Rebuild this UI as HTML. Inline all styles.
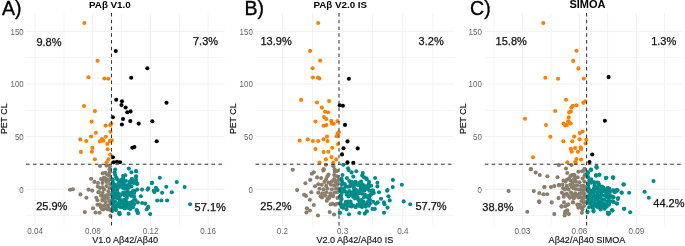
<!DOCTYPE html><html><head><meta charset="utf-8"><style>html,body{margin:0;padding:0;background:#fff;overflow:hidden}svg{display:block;will-change:transform;font-family:"Liberation Sans",sans-serif}</style></head><body>
<svg width="685" height="246" viewBox="0 0 685 246">
<rect width="685" height="246" fill="#fff"/>
<line x1="26.0" x2="224.8" y1="215.63" y2="215.63" stroke="#f3f3f3" stroke-width="1"/>
<line x1="26.0" x2="224.8" y1="162.97" y2="162.97" stroke="#f3f3f3" stroke-width="1"/>
<line x1="26.0" x2="224.8" y1="110.30" y2="110.30" stroke="#f3f3f3" stroke-width="1"/>
<line x1="26.0" x2="224.8" y1="57.64" y2="57.64" stroke="#f3f3f3" stroke-width="1"/>
<line x1="64.0" x2="64.0" y1="13.0" y2="225.6" stroke="#f3f3f3" stroke-width="1"/>
<line x1="121.6" x2="121.6" y1="13.0" y2="225.6" stroke="#f3f3f3" stroke-width="1"/>
<line x1="179.3" x2="179.3" y1="13.0" y2="225.6" stroke="#f3f3f3" stroke-width="1"/>
<line x1="26.0" x2="224.8" y1="189.30" y2="189.30" stroke="#f1f1f1" stroke-width="1"/>
<line x1="26.0" x2="224.8" y1="136.64" y2="136.64" stroke="#f1f1f1" stroke-width="1"/>
<line x1="26.0" x2="224.8" y1="83.97" y2="83.97" stroke="#f1f1f1" stroke-width="1"/>
<line x1="26.0" x2="224.8" y1="31.31" y2="31.31" stroke="#f1f1f1" stroke-width="1"/>
<line x1="35.1" x2="35.1" y1="13.0" y2="225.6" stroke="#f1f1f1" stroke-width="1"/>
<line x1="92.8" x2="92.8" y1="13.0" y2="225.6" stroke="#f1f1f1" stroke-width="1"/>
<line x1="150.5" x2="150.5" y1="13.0" y2="225.6" stroke="#f1f1f1" stroke-width="1"/>
<line x1="208.1" x2="208.1" y1="13.0" y2="225.6" stroke="#f1f1f1" stroke-width="1"/>
<text transform="translate(23.7,192.50) scale(0.88,1)" font-size="9" fill="#666" text-anchor="end">0</text>
<text transform="translate(23.7,139.84) scale(0.88,1)" font-size="9" fill="#666" text-anchor="end">50</text>
<text transform="translate(23.7,87.17) scale(0.88,1)" font-size="9" fill="#666" text-anchor="end">100</text>
<text transform="translate(23.7,34.51) scale(0.88,1)" font-size="9" fill="#666" text-anchor="end">150</text>
<text transform="translate(35.1,234.4) scale(0.9,1)" font-size="9" fill="#666" text-anchor="middle">0.04</text>
<text transform="translate(92.8,234.4) scale(0.9,1)" font-size="9" fill="#666" text-anchor="middle">0.08</text>
<text transform="translate(150.5,234.4) scale(0.9,1)" font-size="9" fill="#666" text-anchor="middle">0.12</text>
<text transform="translate(208.1,234.4) scale(0.9,1)" font-size="9" fill="#666" text-anchor="middle">0.16</text>
<text x="125.15" y="242.9" font-size="9.05" fill="#111" stroke="#111" stroke-width="0.15" text-anchor="middle">V1.0 Aβ42/Aβ40</text>
<text transform="translate(7.3,118.8) rotate(-90)" font-size="8.8" fill="#111" stroke="#111" stroke-width="0.2" text-anchor="middle">PET CL</text>
<text x="2.0" y="14.6" font-size="19.5" fill="#000" stroke="#000" stroke-width="0.35">A)</text>
<text x="89.0" y="8.1" font-size="9.8" font-weight="bold" fill="#000">PAβ V1.0</text>
<circle cx="70.1" cy="189.8" r="2.05" fill="#8b7d6b"/>
<circle cx="72.9" cy="189.3" r="2.05" fill="#8b7d6b"/>
<circle cx="80.4" cy="194.4" r="2.05" fill="#8b7d6b"/>
<circle cx="84.8" cy="212.1" r="2.05" fill="#8b7d6b"/>
<circle cx="86.4" cy="197.7" r="2.05" fill="#8b7d6b"/>
<circle cx="88.5" cy="189.6" r="2.05" fill="#8b7d6b"/>
<circle cx="92.2" cy="190.6" r="2.05" fill="#8b7d6b"/>
<circle cx="91.1" cy="178.8" r="2.05" fill="#8b7d6b"/>
<circle cx="94.4" cy="181.9" r="2.05" fill="#8b7d6b"/>
<circle cx="93.0" cy="208.2" r="2.05" fill="#8b7d6b"/>
<circle cx="95.6" cy="212.5" r="2.05" fill="#8b7d6b"/>
<circle cx="99.6" cy="212.7" r="2.05" fill="#8b7d6b"/>
<circle cx="96.3" cy="197.8" r="2.05" fill="#8b7d6b"/>
<circle cx="97.5" cy="200.3" r="2.05" fill="#8b7d6b"/>
<circle cx="97.5" cy="204.8" r="2.05" fill="#8b7d6b"/>
<circle cx="99.8" cy="204.5" r="2.05" fill="#8b7d6b"/>
<circle cx="100.9" cy="206.9" r="2.05" fill="#8b7d6b"/>
<circle cx="101.9" cy="209.0" r="2.05" fill="#8b7d6b"/>
<circle cx="102.4" cy="200.5" r="2.05" fill="#8b7d6b"/>
<circle cx="105.6" cy="202.1" r="2.05" fill="#8b7d6b"/>
<circle cx="107.7" cy="205.3" r="2.05" fill="#8b7d6b"/>
<circle cx="108.3" cy="207.9" r="2.05" fill="#8b7d6b"/>
<circle cx="109.3" cy="201.0" r="2.05" fill="#8b7d6b"/>
<circle cx="110.4" cy="215.9" r="2.05" fill="#8b7d6b"/>
<circle cx="103.3" cy="209.4" r="2.05" fill="#8b7d6b"/>
<circle cx="107.9" cy="209.4" r="2.05" fill="#8b7d6b"/>
<circle cx="98.3" cy="192.3" r="2.05" fill="#8b7d6b"/>
<circle cx="97.7" cy="186.5" r="2.05" fill="#8b7d6b"/>
<circle cx="98.0" cy="183.0" r="2.05" fill="#8b7d6b"/>
<circle cx="102.4" cy="183.0" r="2.05" fill="#8b7d6b"/>
<circle cx="106.6" cy="182.0" r="2.05" fill="#8b7d6b"/>
<circle cx="108.4" cy="180.5" r="2.05" fill="#8b7d6b"/>
<circle cx="106.3" cy="179.0" r="2.05" fill="#8b7d6b"/>
<circle cx="110.0" cy="184.0" r="2.05" fill="#8b7d6b"/>
<circle cx="102.7" cy="187.2" r="2.05" fill="#8b7d6b"/>
<circle cx="106.6" cy="186.0" r="2.05" fill="#8b7d6b"/>
<circle cx="99.0" cy="192.0" r="2.05" fill="#8b7d6b"/>
<circle cx="102.6" cy="192.7" r="2.05" fill="#8b7d6b"/>
<circle cx="108.3" cy="191.3" r="2.05" fill="#8b7d6b"/>
<circle cx="100.0" cy="166.0" r="2.05" fill="#8b7d6b"/>
<circle cx="106.5" cy="165.6" r="2.05" fill="#8b7d6b"/>
<circle cx="109.9" cy="166.5" r="2.05" fill="#8b7d6b"/>
<circle cx="109.5" cy="169.6" r="2.05" fill="#8b7d6b"/>
<circle cx="102.7" cy="173.3" r="2.05" fill="#8b7d6b"/>
<circle cx="105.4" cy="172.7" r="2.05" fill="#8b7d6b"/>
<circle cx="107.2" cy="174.8" r="2.05" fill="#8b7d6b"/>
<circle cx="109.8" cy="172.2" r="2.05" fill="#8b7d6b"/>
<circle cx="109.4" cy="175.7" r="2.05" fill="#8b7d6b"/>
<circle cx="100.0" cy="188.0" r="2.05" fill="#8b7d6b"/>
<circle cx="104.0" cy="189.5" r="2.05" fill="#8b7d6b"/>
<circle cx="109.5" cy="188.0" r="2.05" fill="#8b7d6b"/>
<circle cx="101.0" cy="195.5" r="2.05" fill="#8b7d6b"/>
<circle cx="104.0" cy="196.0" r="2.05" fill="#8b7d6b"/>
<circle cx="107.0" cy="195.0" r="2.05" fill="#8b7d6b"/>
<circle cx="110.0" cy="194.5" r="2.05" fill="#8b7d6b"/>
<circle cx="102.5" cy="199.0" r="2.05" fill="#8b7d6b"/>
<circle cx="105.0" cy="198.5" r="2.05" fill="#8b7d6b"/>
<circle cx="108.0" cy="198.0" r="2.05" fill="#8b7d6b"/>
<circle cx="110.5" cy="204.0" r="2.05" fill="#8b7d6b"/>
<circle cx="104.0" cy="205.5" r="2.05" fill="#8b7d6b"/>
<circle cx="106.0" cy="208.5" r="2.05" fill="#8b7d6b"/>
<circle cx="110.5" cy="210.0" r="2.05" fill="#8b7d6b"/>
<circle cx="104.0" cy="177.5" r="2.05" fill="#8b7d6b"/>
<circle cx="101.0" cy="179.0" r="2.05" fill="#8b7d6b"/>
<circle cx="110.5" cy="179.0" r="2.05" fill="#8b7d6b"/>
<circle cx="103.0" cy="180.5" r="2.05" fill="#8b7d6b"/>
<circle cx="115.1" cy="169.6" r="2.05" fill="#008b8b"/>
<circle cx="114.6" cy="172.2" r="2.05" fill="#008b8b"/>
<circle cx="115.1" cy="174.7" r="2.05" fill="#008b8b"/>
<circle cx="116.1" cy="177.2" r="2.05" fill="#008b8b"/>
<circle cx="117.1" cy="179.3" r="2.05" fill="#008b8b"/>
<circle cx="112.5" cy="179.3" r="2.05" fill="#008b8b"/>
<circle cx="128.8" cy="168.6" r="2.05" fill="#008b8b"/>
<circle cx="131.4" cy="172.2" r="2.05" fill="#008b8b"/>
<circle cx="135.9" cy="171.1" r="2.05" fill="#008b8b"/>
<circle cx="135.9" cy="176.2" r="2.05" fill="#008b8b"/>
<circle cx="123.2" cy="175.7" r="2.05" fill="#008b8b"/>
<circle cx="125.3" cy="175.2" r="2.05" fill="#008b8b"/>
<circle cx="123.2" cy="178.3" r="2.05" fill="#008b8b"/>
<circle cx="131.9" cy="178.8" r="2.05" fill="#008b8b"/>
<circle cx="133.4" cy="180.3" r="2.05" fill="#008b8b"/>
<circle cx="129.8" cy="181.8" r="2.05" fill="#008b8b"/>
<circle cx="136.4" cy="182.3" r="2.05" fill="#008b8b"/>
<circle cx="122.7" cy="182.8" r="2.05" fill="#008b8b"/>
<circle cx="120.0" cy="181.5" r="2.05" fill="#008b8b"/>
<circle cx="126.0" cy="181.0" r="2.05" fill="#008b8b"/>
<circle cx="136.2" cy="171.3" r="2.05" fill="#008b8b"/>
<circle cx="136.2" cy="176.8" r="2.05" fill="#008b8b"/>
<circle cx="137.3" cy="184.0" r="2.05" fill="#008b8b"/>
<circle cx="159.8" cy="177.7" r="2.05" fill="#008b8b"/>
<circle cx="152.0" cy="182.8" r="2.05" fill="#008b8b"/>
<circle cx="176.8" cy="182.1" r="2.05" fill="#008b8b"/>
<circle cx="166.3" cy="186.8" r="2.05" fill="#008b8b"/>
<circle cx="184.6" cy="187.1" r="2.05" fill="#008b8b"/>
<circle cx="156.0" cy="187.8" r="2.05" fill="#008b8b"/>
<circle cx="154.5" cy="190.8" r="2.05" fill="#008b8b"/>
<circle cx="157.6" cy="190.1" r="2.05" fill="#008b8b"/>
<circle cx="162.1" cy="192.8" r="2.05" fill="#008b8b"/>
<circle cx="171.8" cy="192.3" r="2.05" fill="#008b8b"/>
<circle cx="157.2" cy="200.5" r="2.05" fill="#008b8b"/>
<circle cx="161.3" cy="200.5" r="2.05" fill="#008b8b"/>
<circle cx="167.1" cy="200.5" r="2.05" fill="#008b8b"/>
<circle cx="190.1" cy="204.3" r="2.05" fill="#008b8b"/>
<circle cx="148.1" cy="207.6" r="2.05" fill="#008b8b"/>
<circle cx="146.8" cy="209.3" r="2.05" fill="#008b8b"/>
<circle cx="137.1" cy="210.7" r="2.05" fill="#008b8b"/>
<circle cx="138.0" cy="213.0" r="2.05" fill="#008b8b"/>
<circle cx="150.2" cy="214.1" r="2.05" fill="#008b8b"/>
<circle cx="154.4" cy="192.0" r="2.05" fill="#008b8b"/>
<circle cx="119.1" cy="213.2" r="2.05" fill="#008b8b"/>
<circle cx="119.6" cy="214.3" r="2.05" fill="#008b8b"/>
<circle cx="128.6" cy="213.7" r="2.05" fill="#008b8b"/>
<circle cx="136.5" cy="210.0" r="2.05" fill="#008b8b"/>
<circle cx="137.6" cy="212.7" r="2.05" fill="#008b8b"/>
<circle cx="112.2" cy="211.1" r="2.05" fill="#008b8b"/>
<circle cx="115.9" cy="210.0" r="2.05" fill="#008b8b"/>
<circle cx="124.9" cy="208.4" r="2.05" fill="#008b8b"/>
<circle cx="130.2" cy="209.0" r="2.05" fill="#008b8b"/>
<circle cx="115.1" cy="201.6" r="2.05" fill="#008b8b"/>
<circle cx="112.0" cy="202.1" r="2.05" fill="#008b8b"/>
<circle cx="117.8" cy="204.2" r="2.05" fill="#008b8b"/>
<circle cx="112.5" cy="207.9" r="2.05" fill="#008b8b"/>
<circle cx="115.7" cy="209.5" r="2.05" fill="#008b8b"/>
<circle cx="119.4" cy="212.7" r="2.05" fill="#008b8b"/>
<circle cx="130.5" cy="181.0" r="2.05" fill="#008b8b"/>
<circle cx="136.0" cy="179.8" r="2.05" fill="#008b8b"/>
<circle cx="136.6" cy="183.5" r="2.05" fill="#008b8b"/>
<circle cx="137.2" cy="189.6" r="2.05" fill="#008b8b"/>
<circle cx="142.1" cy="189.6" r="2.05" fill="#008b8b"/>
<circle cx="147.6" cy="189.6" r="2.05" fill="#008b8b"/>
<circle cx="148.2" cy="188.4" r="2.05" fill="#008b8b"/>
<circle cx="151.8" cy="182.9" r="2.05" fill="#008b8b"/>
<circle cx="153.7" cy="190.8" r="2.05" fill="#008b8b"/>
<circle cx="140.9" cy="196.3" r="2.05" fill="#008b8b"/>
<circle cx="135.4" cy="200.0" r="2.05" fill="#008b8b"/>
<circle cx="137.8" cy="202.4" r="2.05" fill="#008b8b"/>
<circle cx="142.1" cy="203.0" r="2.05" fill="#008b8b"/>
<circle cx="145.1" cy="203.6" r="2.05" fill="#008b8b"/>
<circle cx="148.2" cy="206.7" r="2.05" fill="#008b8b"/>
<circle cx="132.9" cy="196.3" r="2.05" fill="#008b8b"/>
<circle cx="134.8" cy="190.8" r="2.05" fill="#008b8b"/>
<circle cx="129.3" cy="187.1" r="2.05" fill="#008b8b"/>
<circle cx="123.4" cy="192.6" r="2.05" fill="#008b8b"/>
<circle cx="126.8" cy="202.1" r="2.05" fill="#008b8b"/>
<circle cx="122.3" cy="200.2" r="2.05" fill="#008b8b"/>
<circle cx="117.5" cy="206.5" r="2.05" fill="#008b8b"/>
<circle cx="132.3" cy="180.9" r="2.05" fill="#008b8b"/>
<circle cx="113.1" cy="195.2" r="2.05" fill="#008b8b"/>
<circle cx="133.2" cy="190.7" r="2.05" fill="#008b8b"/>
<circle cx="117.3" cy="191.8" r="2.05" fill="#008b8b"/>
<circle cx="113.1" cy="186.2" r="2.05" fill="#008b8b"/>
<circle cx="117.6" cy="186.5" r="2.05" fill="#008b8b"/>
<circle cx="118.9" cy="180.6" r="2.05" fill="#008b8b"/>
<circle cx="130.9" cy="195.6" r="2.05" fill="#008b8b"/>
<circle cx="126.6" cy="185.2" r="2.05" fill="#008b8b"/>
<circle cx="134.3" cy="204.1" r="2.05" fill="#008b8b"/>
<circle cx="115.2" cy="189.3" r="2.05" fill="#008b8b"/>
<circle cx="119.2" cy="196.5" r="2.05" fill="#008b8b"/>
<circle cx="131.9" cy="203.7" r="2.05" fill="#008b8b"/>
<circle cx="116.3" cy="195.4" r="2.05" fill="#008b8b"/>
<circle cx="123.3" cy="180.8" r="2.05" fill="#008b8b"/>
<circle cx="134.1" cy="196.6" r="2.05" fill="#008b8b"/>
<circle cx="121.2" cy="184.8" r="2.05" fill="#008b8b"/>
<circle cx="123.5" cy="207.5" r="2.05" fill="#008b8b"/>
<circle cx="131.4" cy="186.5" r="2.05" fill="#008b8b"/>
<circle cx="129.7" cy="203.0" r="2.05" fill="#008b8b"/>
<circle cx="113.7" cy="204.4" r="2.05" fill="#008b8b"/>
<circle cx="126.0" cy="192.8" r="2.05" fill="#008b8b"/>
<circle cx="118.1" cy="203.6" r="2.05" fill="#008b8b"/>
<circle cx="114.9" cy="197.5" r="2.05" fill="#008b8b"/>
<circle cx="113.0" cy="190.8" r="2.05" fill="#008b8b"/>
<circle cx="123.7" cy="185.9" r="2.05" fill="#008b8b"/>
<circle cx="127.4" cy="195.3" r="2.05" fill="#008b8b"/>
<circle cx="117.4" cy="198.2" r="2.05" fill="#008b8b"/>
<circle cx="130.5" cy="206.9" r="2.05" fill="#008b8b"/>
<circle cx="119.0" cy="194.0" r="2.05" fill="#008b8b"/>
<circle cx="115.0" cy="184.7" r="2.05" fill="#008b8b"/>
<circle cx="120.8" cy="207.2" r="2.05" fill="#008b8b"/>
<circle cx="133.8" cy="183.1" r="2.05" fill="#008b8b"/>
<circle cx="126.8" cy="198.0" r="2.05" fill="#008b8b"/>
<circle cx="123.4" cy="204.2" r="2.05" fill="#008b8b"/>
<circle cx="124.6" cy="195.2" r="2.05" fill="#008b8b"/>
<circle cx="131.2" cy="192.7" r="2.05" fill="#008b8b"/>
<circle cx="113.4" cy="207.5" r="2.05" fill="#008b8b"/>
<circle cx="125.1" cy="188.7" r="2.05" fill="#008b8b"/>
<circle cx="125.7" cy="204.7" r="2.05" fill="#008b8b"/>
<circle cx="134.2" cy="192.9" r="2.05" fill="#008b8b"/>
<circle cx="128.1" cy="204.5" r="2.05" fill="#008b8b"/>
<circle cx="127.7" cy="191.3" r="2.05" fill="#008b8b"/>
<circle cx="129.2" cy="184.3" r="2.05" fill="#008b8b"/>
<circle cx="115.4" cy="193.0" r="2.05" fill="#008b8b"/>
<circle cx="118.5" cy="183.3" r="2.05" fill="#008b8b"/>
<circle cx="126.4" cy="207.1" r="2.05" fill="#008b8b"/>
<circle cx="134.2" cy="200.1" r="2.05" fill="#008b8b"/>
<circle cx="119.7" cy="201.0" r="2.05" fill="#008b8b"/>
<circle cx="132.9" cy="207.2" r="2.05" fill="#008b8b"/>
<circle cx="130.9" cy="182.5" r="2.05" fill="#008b8b"/>
<circle cx="112.6" cy="180.6" r="2.05" fill="#008b8b"/>
<circle cx="120.9" cy="203.3" r="2.05" fill="#008b8b"/>
<circle cx="121.1" cy="180.1" r="2.05" fill="#008b8b"/>
<circle cx="120.0" cy="186.7" r="2.05" fill="#008b8b"/>
<circle cx="115.4" cy="187.1" r="2.05" fill="#008b8b"/>
<circle cx="113.0" cy="182.9" r="2.05" fill="#008b8b"/>
<circle cx="112.5" cy="199.7" r="2.05" fill="#008b8b"/>
<circle cx="123.7" cy="183.6" r="2.05" fill="#008b8b"/>
<circle cx="121.2" cy="194.6" r="2.05" fill="#008b8b"/>
<circle cx="125.0" cy="199.6" r="2.05" fill="#008b8b"/>
<circle cx="123.9" cy="201.9" r="2.05" fill="#008b8b"/>
<circle cx="112.5" cy="188.6" r="2.05" fill="#008b8b"/>
<circle cx="129.0" cy="193.1" r="2.05" fill="#008b8b"/>
<circle cx="127.6" cy="188.5" r="2.05" fill="#008b8b"/>
<circle cx="128.5" cy="207.9" r="2.05" fill="#008b8b"/>
<circle cx="117.5" cy="188.8" r="2.05" fill="#008b8b"/>
<circle cx="121.1" cy="182.5" r="2.05" fill="#008b8b"/>
<circle cx="115.3" cy="206.1" r="2.05" fill="#008b8b"/>
<circle cx="119.5" cy="205.4" r="2.05" fill="#008b8b"/>
<circle cx="112.5" cy="197.5" r="2.05" fill="#008b8b"/>
<circle cx="119.7" cy="198.7" r="2.05" fill="#008b8b"/>
<circle cx="132.3" cy="201.5" r="2.05" fill="#008b8b"/>
<circle cx="123.0" cy="188.0" r="2.05" fill="#008b8b"/>
<circle cx="112.5" cy="193.0" r="2.05" fill="#008b8b"/>
<circle cx="84.4" cy="23.0" r="2.05" fill="#ff7f00"/>
<circle cx="97.6" cy="60.7" r="2.05" fill="#ff7f00"/>
<circle cx="88.5" cy="77.3" r="2.05" fill="#ff7f00"/>
<circle cx="104.4" cy="78.5" r="2.05" fill="#ff7f00"/>
<circle cx="108.3" cy="78.8" r="2.05" fill="#ff7f00"/>
<circle cx="84.0" cy="106.0" r="2.05" fill="#ff7f00"/>
<circle cx="94.9" cy="111.1" r="2.05" fill="#ff7f00"/>
<circle cx="91.6" cy="121.6" r="2.05" fill="#ff7f00"/>
<circle cx="105.6" cy="125.6" r="2.05" fill="#ff7f00"/>
<circle cx="110.3" cy="124.9" r="2.05" fill="#ff7f00"/>
<circle cx="111.3" cy="123.5" r="2.05" fill="#ff7f00"/>
<circle cx="95.9" cy="132.7" r="2.05" fill="#ff7f00"/>
<circle cx="110.5" cy="131.8" r="2.05" fill="#ff7f00"/>
<circle cx="91.1" cy="136.5" r="2.05" fill="#ff7f00"/>
<circle cx="105.8" cy="136.8" r="2.05" fill="#ff7f00"/>
<circle cx="80.3" cy="139.4" r="2.05" fill="#ff7f00"/>
<circle cx="86.3" cy="141.1" r="2.05" fill="#ff7f00"/>
<circle cx="99.9" cy="141.2" r="2.05" fill="#ff7f00"/>
<circle cx="102.0" cy="139.1" r="2.05" fill="#ff7f00"/>
<circle cx="103.4" cy="140.8" r="2.05" fill="#ff7f00"/>
<circle cx="107.3" cy="143.9" r="2.05" fill="#ff7f00"/>
<circle cx="109.9" cy="141.1" r="2.05" fill="#ff7f00"/>
<circle cx="111.8" cy="140.4" r="2.05" fill="#ff7f00"/>
<circle cx="92.4" cy="147.9" r="2.05" fill="#ff7f00"/>
<circle cx="91.9" cy="151.8" r="2.05" fill="#ff7f00"/>
<circle cx="80.9" cy="151.9" r="2.05" fill="#ff7f00"/>
<circle cx="107.7" cy="149.2" r="2.05" fill="#ff7f00"/>
<circle cx="110.3" cy="154.5" r="2.05" fill="#ff7f00"/>
<circle cx="94.9" cy="159.2" r="2.05" fill="#ff7f00"/>
<circle cx="108.4" cy="159.3" r="2.05" fill="#ff7f00"/>
<circle cx="106.7" cy="162.2" r="2.05" fill="#ff7f00"/>
<circle cx="115.8" cy="51.0" r="2.05" fill="#000000"/>
<circle cx="147.3" cy="68.3" r="2.05" fill="#000000"/>
<circle cx="131.2" cy="77.8" r="2.05" fill="#000000"/>
<circle cx="116.2" cy="99.8" r="2.05" fill="#000000"/>
<circle cx="122.0" cy="101.3" r="2.05" fill="#000000"/>
<circle cx="121.5" cy="105.1" r="2.05" fill="#000000"/>
<circle cx="125.6" cy="107.5" r="2.05" fill="#000000"/>
<circle cx="127.3" cy="112.2" r="2.05" fill="#000000"/>
<circle cx="130.6" cy="111.4" r="2.05" fill="#000000"/>
<circle cx="166.5" cy="102.8" r="2.05" fill="#000000"/>
<circle cx="112.9" cy="117.3" r="2.05" fill="#000000"/>
<circle cx="123.0" cy="119.0" r="2.05" fill="#000000"/>
<circle cx="130.3" cy="121.1" r="2.05" fill="#000000"/>
<circle cx="121.9" cy="124.5" r="2.05" fill="#000000"/>
<circle cx="138.7" cy="123.6" r="2.05" fill="#000000"/>
<circle cx="152.3" cy="121.2" r="2.05" fill="#000000"/>
<circle cx="156.7" cy="141.2" r="2.05" fill="#000000"/>
<circle cx="132.3" cy="147.8" r="2.05" fill="#000000"/>
<circle cx="134.4" cy="147.1" r="2.05" fill="#000000"/>
<circle cx="112.9" cy="157.2" r="2.05" fill="#000000"/>
<circle cx="113.7" cy="162.2" r="2.05" fill="#000000"/>
<circle cx="117.0" cy="161.7" r="2.05" fill="#000000"/>
<circle cx="120.0" cy="162.2" r="2.05" fill="#000000"/>
<line x1="26.0" x2="224.8" y1="164.3" y2="164.3" stroke="#333" stroke-width="1.05" stroke-dasharray="3.6 3.27"/>
<line x1="111.5" x2="111.5" y1="13.0" y2="225.6" stroke="#333" stroke-width="1.05" stroke-dasharray="3.5 3.245"/>
<text x="36.4" y="46.1" font-size="11" fill="#111" stroke="#111" stroke-width="0.25">9.8%</text>
<text x="193.0" y="44.8" font-size="11" fill="#111" stroke="#111" stroke-width="0.25">7.3%</text>
<text x="36.2" y="210.4" font-size="11" fill="#111" stroke="#111" stroke-width="0.25">25.9%</text>
<text x="194.6" y="210.7" font-size="11" fill="#111" stroke="#111" stroke-width="0.25">57.1%</text>
<line x1="255.5" x2="453.7" y1="215.63" y2="215.63" stroke="#f3f3f3" stroke-width="1"/>
<line x1="255.5" x2="453.7" y1="162.97" y2="162.97" stroke="#f3f3f3" stroke-width="1"/>
<line x1="255.5" x2="453.7" y1="110.30" y2="110.30" stroke="#f3f3f3" stroke-width="1"/>
<line x1="255.5" x2="453.7" y1="57.64" y2="57.64" stroke="#f3f3f3" stroke-width="1"/>
<line x1="312.5" x2="312.5" y1="13.0" y2="225.6" stroke="#f3f3f3" stroke-width="1"/>
<line x1="372.7" x2="372.7" y1="13.0" y2="225.6" stroke="#f3f3f3" stroke-width="1"/>
<line x1="432.9" x2="432.9" y1="13.0" y2="225.6" stroke="#f3f3f3" stroke-width="1"/>
<line x1="255.5" x2="453.7" y1="189.30" y2="189.30" stroke="#f1f1f1" stroke-width="1"/>
<line x1="255.5" x2="453.7" y1="136.64" y2="136.64" stroke="#f1f1f1" stroke-width="1"/>
<line x1="255.5" x2="453.7" y1="83.97" y2="83.97" stroke="#f1f1f1" stroke-width="1"/>
<line x1="255.5" x2="453.7" y1="31.31" y2="31.31" stroke="#f1f1f1" stroke-width="1"/>
<line x1="282.4" x2="282.4" y1="13.0" y2="225.6" stroke="#f1f1f1" stroke-width="1"/>
<line x1="342.6" x2="342.6" y1="13.0" y2="225.6" stroke="#f1f1f1" stroke-width="1"/>
<line x1="402.8" x2="402.8" y1="13.0" y2="225.6" stroke="#f1f1f1" stroke-width="1"/>
<text transform="translate(252.8,192.50) scale(0.88,1)" font-size="9" fill="#666" text-anchor="end">0</text>
<text transform="translate(252.8,139.84) scale(0.88,1)" font-size="9" fill="#666" text-anchor="end">50</text>
<text transform="translate(252.8,87.17) scale(0.88,1)" font-size="9" fill="#666" text-anchor="end">100</text>
<text transform="translate(252.8,34.51) scale(0.88,1)" font-size="9" fill="#666" text-anchor="end">150</text>
<text transform="translate(282.4,234.4) scale(0.9,1)" font-size="9" fill="#666" text-anchor="middle">0.2</text>
<text transform="translate(342.6,234.4) scale(0.9,1)" font-size="9" fill="#666" text-anchor="middle">0.3</text>
<text transform="translate(402.8,234.4) scale(0.9,1)" font-size="9" fill="#666" text-anchor="middle">0.4</text>
<text x="354.8" y="242.9" font-size="9.05" fill="#111" stroke="#111" stroke-width="0.15" text-anchor="middle">V2.0 Aβ42/Aβ40 IS</text>
<text transform="translate(236.2,118.8) rotate(-90)" font-size="8.8" fill="#111" stroke="#111" stroke-width="0.2" text-anchor="middle">PET CL</text>
<text x="244.6" y="14.6" font-size="19.5" fill="#000" stroke="#000" stroke-width="0.35">B)</text>
<text x="313.4" y="8.0" font-size="9.8" font-weight="bold" fill="#000">PAβ V2.0 IS</text>
<circle cx="292.7" cy="169.8" r="2.05" fill="#8b7d6b"/>
<circle cx="311.9" cy="173.7" r="2.05" fill="#8b7d6b"/>
<circle cx="310.2" cy="179.9" r="2.05" fill="#8b7d6b"/>
<circle cx="305.4" cy="183.2" r="2.05" fill="#8b7d6b"/>
<circle cx="297.1" cy="190.1" r="2.05" fill="#8b7d6b"/>
<circle cx="304.1" cy="194.8" r="2.05" fill="#8b7d6b"/>
<circle cx="306.0" cy="195.9" r="2.05" fill="#8b7d6b"/>
<circle cx="309.9" cy="199.8" r="2.05" fill="#8b7d6b"/>
<circle cx="313.8" cy="205.0" r="2.05" fill="#8b7d6b"/>
<circle cx="306.9" cy="208.3" r="2.05" fill="#8b7d6b"/>
<circle cx="309.9" cy="210.5" r="2.05" fill="#8b7d6b"/>
<circle cx="306.4" cy="212.4" r="2.05" fill="#8b7d6b"/>
<circle cx="333.4" cy="166.3" r="2.05" fill="#8b7d6b"/>
<circle cx="311.3" cy="192.3" r="2.05" fill="#8b7d6b"/>
<circle cx="325.9" cy="164.8" r="2.05" fill="#8b7d6b"/>
<circle cx="333.3" cy="164.8" r="2.05" fill="#8b7d6b"/>
<circle cx="313.8" cy="172.3" r="2.05" fill="#8b7d6b"/>
<circle cx="323.6" cy="169.2" r="2.05" fill="#8b7d6b"/>
<circle cx="334.6" cy="169.2" r="2.05" fill="#8b7d6b"/>
<circle cx="315.0" cy="186.3" r="2.05" fill="#8b7d6b"/>
<circle cx="327.7" cy="198.9" r="2.05" fill="#8b7d6b"/>
<circle cx="326.8" cy="200.8" r="2.05" fill="#8b7d6b"/>
<circle cx="330.7" cy="204.3" r="2.05" fill="#8b7d6b"/>
<circle cx="332.6" cy="203.8" r="2.05" fill="#8b7d6b"/>
<circle cx="335.1" cy="204.8" r="2.05" fill="#8b7d6b"/>
<circle cx="337.0" cy="203.8" r="2.05" fill="#8b7d6b"/>
<circle cx="329.7" cy="212.1" r="2.05" fill="#8b7d6b"/>
<circle cx="334.1" cy="214.5" r="2.05" fill="#8b7d6b"/>
<circle cx="318.0" cy="215.5" r="2.05" fill="#8b7d6b"/>
<circle cx="323.4" cy="170.5" r="2.05" fill="#8b7d6b"/>
<circle cx="334.8" cy="171.7" r="2.05" fill="#8b7d6b"/>
<circle cx="337.0" cy="171.1" r="2.05" fill="#8b7d6b"/>
<circle cx="328.5" cy="174.6" r="2.05" fill="#8b7d6b"/>
<circle cx="327.4" cy="176.3" r="2.05" fill="#8b7d6b"/>
<circle cx="334.2" cy="175.1" r="2.05" fill="#8b7d6b"/>
<circle cx="337.0" cy="176.3" r="2.05" fill="#8b7d6b"/>
<circle cx="317.1" cy="177.4" r="2.05" fill="#8b7d6b"/>
<circle cx="321.1" cy="178.0" r="2.05" fill="#8b7d6b"/>
<circle cx="326.2" cy="179.1" r="2.05" fill="#8b7d6b"/>
<circle cx="334.2" cy="179.1" r="2.05" fill="#8b7d6b"/>
<circle cx="324.5" cy="181.9" r="2.05" fill="#8b7d6b"/>
<circle cx="328.5" cy="182.5" r="2.05" fill="#8b7d6b"/>
<circle cx="331.9" cy="181.4" r="2.05" fill="#8b7d6b"/>
<circle cx="335.9" cy="181.9" r="2.05" fill="#8b7d6b"/>
<circle cx="318.3" cy="184.2" r="2.05" fill="#8b7d6b"/>
<circle cx="321.7" cy="184.8" r="2.05" fill="#8b7d6b"/>
<circle cx="326.2" cy="185.9" r="2.05" fill="#8b7d6b"/>
<circle cx="330.8" cy="184.8" r="2.05" fill="#8b7d6b"/>
<circle cx="334.2" cy="185.4" r="2.05" fill="#8b7d6b"/>
<circle cx="337.0" cy="184.8" r="2.05" fill="#8b7d6b"/>
<circle cx="319.4" cy="188.8" r="2.05" fill="#8b7d6b"/>
<circle cx="323.4" cy="189.3" r="2.05" fill="#8b7d6b"/>
<circle cx="327.4" cy="188.8" r="2.05" fill="#8b7d6b"/>
<circle cx="331.9" cy="189.3" r="2.05" fill="#8b7d6b"/>
<circle cx="335.9" cy="188.8" r="2.05" fill="#8b7d6b"/>
<circle cx="318.3" cy="192.8" r="2.05" fill="#8b7d6b"/>
<circle cx="322.3" cy="193.3" r="2.05" fill="#8b7d6b"/>
<circle cx="326.2" cy="192.2" r="2.05" fill="#8b7d6b"/>
<circle cx="330.2" cy="193.3" r="2.05" fill="#8b7d6b"/>
<circle cx="334.2" cy="192.8" r="2.05" fill="#8b7d6b"/>
<circle cx="337.0" cy="192.2" r="2.05" fill="#8b7d6b"/>
<circle cx="320.6" cy="196.2" r="2.05" fill="#8b7d6b"/>
<circle cx="325.1" cy="195.6" r="2.05" fill="#8b7d6b"/>
<circle cx="329.1" cy="196.7" r="2.05" fill="#8b7d6b"/>
<circle cx="333.1" cy="196.2" r="2.05" fill="#8b7d6b"/>
<circle cx="331.6" cy="195.5" r="2.05" fill="#8b7d6b"/>
<circle cx="337.5" cy="197.9" r="2.05" fill="#8b7d6b"/>
<circle cx="321.9" cy="197.4" r="2.05" fill="#8b7d6b"/>
<circle cx="329.2" cy="197.9" r="2.05" fill="#8b7d6b"/>
<circle cx="323.6" cy="169.2" r="2.05" fill="#8b7d6b"/>
<circle cx="338.0" cy="180.0" r="2.05" fill="#8b7d6b"/>
<circle cx="338.0" cy="188.5" r="2.05" fill="#8b7d6b"/>
<circle cx="343.3" cy="164.8" r="2.05" fill="#008b8b"/>
<circle cx="348.0" cy="168.3" r="2.05" fill="#008b8b"/>
<circle cx="348.6" cy="170.1" r="2.05" fill="#008b8b"/>
<circle cx="351.6" cy="172.4" r="2.05" fill="#008b8b"/>
<circle cx="356.3" cy="171.3" r="2.05" fill="#008b8b"/>
<circle cx="362.8" cy="173.0" r="2.05" fill="#008b8b"/>
<circle cx="362.2" cy="175.4" r="2.05" fill="#008b8b"/>
<circle cx="364.0" cy="177.2" r="2.05" fill="#008b8b"/>
<circle cx="366.3" cy="178.3" r="2.05" fill="#008b8b"/>
<circle cx="353.3" cy="176.6" r="2.05" fill="#008b8b"/>
<circle cx="342.5" cy="175.0" r="2.05" fill="#008b8b"/>
<circle cx="341.5" cy="178.9" r="2.05" fill="#008b8b"/>
<circle cx="346.9" cy="178.1" r="2.05" fill="#008b8b"/>
<circle cx="341.2" cy="179.9" r="2.05" fill="#008b8b"/>
<circle cx="341.9" cy="184.5" r="2.05" fill="#008b8b"/>
<circle cx="341.2" cy="188.4" r="2.05" fill="#008b8b"/>
<circle cx="340.6" cy="191.3" r="2.05" fill="#008b8b"/>
<circle cx="340.6" cy="195.9" r="2.05" fill="#008b8b"/>
<circle cx="341.2" cy="199.8" r="2.05" fill="#008b8b"/>
<circle cx="340.6" cy="203.0" r="2.05" fill="#008b8b"/>
<circle cx="343.2" cy="207.6" r="2.05" fill="#008b8b"/>
<circle cx="339.9" cy="212.8" r="2.05" fill="#008b8b"/>
<circle cx="339.8" cy="213.0" r="2.05" fill="#008b8b"/>
<circle cx="349.0" cy="214.2" r="2.05" fill="#008b8b"/>
<circle cx="359.3" cy="213.0" r="2.05" fill="#008b8b"/>
<circle cx="364.8" cy="213.6" r="2.05" fill="#008b8b"/>
<circle cx="366.7" cy="211.2" r="2.05" fill="#008b8b"/>
<circle cx="342.9" cy="207.5" r="2.05" fill="#008b8b"/>
<circle cx="346.5" cy="209.3" r="2.05" fill="#008b8b"/>
<circle cx="355.7" cy="206.9" r="2.05" fill="#008b8b"/>
<circle cx="361.2" cy="206.3" r="2.05" fill="#008b8b"/>
<circle cx="366.7" cy="179.3" r="2.05" fill="#008b8b"/>
<circle cx="375.1" cy="178.0" r="2.05" fill="#008b8b"/>
<circle cx="377.4" cy="182.8" r="2.05" fill="#008b8b"/>
<circle cx="377.4" cy="186.4" r="2.05" fill="#008b8b"/>
<circle cx="371.2" cy="185.8" r="2.05" fill="#008b8b"/>
<circle cx="368.6" cy="187.1" r="2.05" fill="#008b8b"/>
<circle cx="372.5" cy="190.3" r="2.05" fill="#008b8b"/>
<circle cx="373.8" cy="192.9" r="2.05" fill="#008b8b"/>
<circle cx="379.0" cy="192.3" r="2.05" fill="#008b8b"/>
<circle cx="392.9" cy="179.9" r="2.05" fill="#008b8b"/>
<circle cx="392.7" cy="187.1" r="2.05" fill="#008b8b"/>
<circle cx="387.5" cy="190.0" r="2.05" fill="#008b8b"/>
<circle cx="401.8" cy="184.8" r="2.05" fill="#008b8b"/>
<circle cx="371.9" cy="191.3" r="2.05" fill="#008b8b"/>
<circle cx="387.1" cy="190.7" r="2.05" fill="#008b8b"/>
<circle cx="388.4" cy="196.2" r="2.05" fill="#008b8b"/>
<circle cx="389.7" cy="200.4" r="2.05" fill="#008b8b"/>
<circle cx="381.0" cy="198.8" r="2.05" fill="#008b8b"/>
<circle cx="384.0" cy="202.4" r="2.05" fill="#008b8b"/>
<circle cx="384.5" cy="204.3" r="2.05" fill="#008b8b"/>
<circle cx="387.5" cy="207.6" r="2.05" fill="#008b8b"/>
<circle cx="384.0" cy="212.8" r="2.05" fill="#008b8b"/>
<circle cx="403.7" cy="201.4" r="2.05" fill="#008b8b"/>
<circle cx="410.2" cy="204.3" r="2.05" fill="#008b8b"/>
<circle cx="366.7" cy="211.5" r="2.05" fill="#008b8b"/>
<circle cx="372.5" cy="208.9" r="2.05" fill="#008b8b"/>
<circle cx="374.8" cy="208.9" r="2.05" fill="#008b8b"/>
<circle cx="377.7" cy="202.4" r="2.05" fill="#008b8b"/>
<circle cx="375.8" cy="203.7" r="2.05" fill="#008b8b"/>
<circle cx="368.0" cy="197.8" r="2.05" fill="#008b8b"/>
<circle cx="369.3" cy="201.1" r="2.05" fill="#008b8b"/>
<circle cx="373.2" cy="201.7" r="2.05" fill="#008b8b"/>
<circle cx="367.3" cy="202.4" r="2.05" fill="#008b8b"/>
<circle cx="371.2" cy="194.6" r="2.05" fill="#008b8b"/>
<circle cx="373.2" cy="190.7" r="2.05" fill="#008b8b"/>
<circle cx="368.7" cy="205.6" r="2.05" fill="#008b8b"/>
<circle cx="342.6" cy="183.2" r="2.05" fill="#008b8b"/>
<circle cx="360.4" cy="189.0" r="2.05" fill="#008b8b"/>
<circle cx="353.5" cy="191.2" r="2.05" fill="#008b8b"/>
<circle cx="362.0" cy="206.9" r="2.05" fill="#008b8b"/>
<circle cx="353.9" cy="188.0" r="2.05" fill="#008b8b"/>
<circle cx="356.2" cy="195.6" r="2.05" fill="#008b8b"/>
<circle cx="355.8" cy="207.0" r="2.05" fill="#008b8b"/>
<circle cx="360.6" cy="185.7" r="2.05" fill="#008b8b"/>
<circle cx="362.3" cy="204.6" r="2.05" fill="#008b8b"/>
<circle cx="363.1" cy="201.5" r="2.05" fill="#008b8b"/>
<circle cx="351.3" cy="206.5" r="2.05" fill="#008b8b"/>
<circle cx="351.3" cy="204.0" r="2.05" fill="#008b8b"/>
<circle cx="357.5" cy="204.9" r="2.05" fill="#008b8b"/>
<circle cx="362.0" cy="193.7" r="2.05" fill="#008b8b"/>
<circle cx="367.4" cy="189.0" r="2.05" fill="#008b8b"/>
<circle cx="350.0" cy="186.4" r="2.05" fill="#008b8b"/>
<circle cx="359.1" cy="183.0" r="2.05" fill="#008b8b"/>
<circle cx="367.3" cy="186.0" r="2.05" fill="#008b8b"/>
<circle cx="347.6" cy="203.8" r="2.05" fill="#008b8b"/>
<circle cx="341.9" cy="190.4" r="2.05" fill="#008b8b"/>
<circle cx="343.4" cy="205.8" r="2.05" fill="#008b8b"/>
<circle cx="352.2" cy="182.1" r="2.05" fill="#008b8b"/>
<circle cx="358.8" cy="200.3" r="2.05" fill="#008b8b"/>
<circle cx="341.9" cy="192.7" r="2.05" fill="#008b8b"/>
<circle cx="358.0" cy="191.2" r="2.05" fill="#008b8b"/>
<circle cx="355.9" cy="184.7" r="2.05" fill="#008b8b"/>
<circle cx="347.7" cy="192.6" r="2.05" fill="#008b8b"/>
<circle cx="348.3" cy="196.4" r="2.05" fill="#008b8b"/>
<circle cx="353.3" cy="194.7" r="2.05" fill="#008b8b"/>
<circle cx="347.7" cy="186.7" r="2.05" fill="#008b8b"/>
<circle cx="356.1" cy="193.1" r="2.05" fill="#008b8b"/>
<circle cx="364.3" cy="190.5" r="2.05" fill="#008b8b"/>
<circle cx="369.5" cy="190.7" r="2.05" fill="#008b8b"/>
<circle cx="341.6" cy="198.8" r="2.05" fill="#008b8b"/>
<circle cx="343.9" cy="189.0" r="2.05" fill="#008b8b"/>
<circle cx="359.6" cy="206.0" r="2.05" fill="#008b8b"/>
<circle cx="361.1" cy="181.6" r="2.05" fill="#008b8b"/>
<circle cx="351.4" cy="192.9" r="2.05" fill="#008b8b"/>
<circle cx="364.2" cy="188.0" r="2.05" fill="#008b8b"/>
<circle cx="368.7" cy="201.9" r="2.05" fill="#008b8b"/>
<circle cx="367.6" cy="196.2" r="2.05" fill="#008b8b"/>
<circle cx="345.2" cy="191.8" r="2.05" fill="#008b8b"/>
<circle cx="361.4" cy="191.5" r="2.05" fill="#008b8b"/>
<circle cx="367.3" cy="204.0" r="2.05" fill="#008b8b"/>
<circle cx="346.9" cy="206.1" r="2.05" fill="#008b8b"/>
<circle cx="355.1" cy="198.5" r="2.05" fill="#008b8b"/>
<circle cx="355.6" cy="181.7" r="2.05" fill="#008b8b"/>
<circle cx="364.1" cy="197.3" r="2.05" fill="#008b8b"/>
<circle cx="352.5" cy="185.5" r="2.05" fill="#008b8b"/>
<circle cx="369.2" cy="197.9" r="2.05" fill="#008b8b"/>
<circle cx="364.8" cy="194.6" r="2.05" fill="#008b8b"/>
<circle cx="344.8" cy="184.0" r="2.05" fill="#008b8b"/>
<circle cx="357.8" cy="197.8" r="2.05" fill="#008b8b"/>
<circle cx="350.7" cy="195.0" r="2.05" fill="#008b8b"/>
<circle cx="361.4" cy="200.1" r="2.05" fill="#008b8b"/>
<circle cx="369.1" cy="181.7" r="2.05" fill="#008b8b"/>
<circle cx="363.9" cy="185.2" r="2.05" fill="#008b8b"/>
<circle cx="348.2" cy="201.5" r="2.05" fill="#008b8b"/>
<circle cx="353.7" cy="205.7" r="2.05" fill="#008b8b"/>
<circle cx="368.8" cy="184.0" r="2.05" fill="#008b8b"/>
<circle cx="359.7" cy="203.1" r="2.05" fill="#008b8b"/>
<circle cx="364.8" cy="204.3" r="2.05" fill="#008b8b"/>
<circle cx="358.6" cy="193.5" r="2.05" fill="#008b8b"/>
<circle cx="341.0" cy="204.8" r="2.05" fill="#008b8b"/>
<circle cx="365.7" cy="206.8" r="2.05" fill="#008b8b"/>
<circle cx="349.3" cy="181.1" r="2.05" fill="#008b8b"/>
<circle cx="349.4" cy="191.0" r="2.05" fill="#008b8b"/>
<circle cx="341.0" cy="195.5" r="2.05" fill="#008b8b"/>
<circle cx="345.1" cy="204.0" r="2.05" fill="#008b8b"/>
<circle cx="341.9" cy="181.1" r="2.05" fill="#008b8b"/>
<circle cx="370.0" cy="195.0" r="2.05" fill="#008b8b"/>
<circle cx="345.5" cy="186.4" r="2.05" fill="#008b8b"/>
<circle cx="356.0" cy="190.0" r="2.05" fill="#008b8b"/>
<circle cx="353.3" cy="196.9" r="2.05" fill="#008b8b"/>
<circle cx="349.2" cy="205.7" r="2.05" fill="#008b8b"/>
<circle cx="350.5" cy="201.5" r="2.05" fill="#008b8b"/>
<circle cx="370.0" cy="200.0" r="2.05" fill="#008b8b"/>
<circle cx="350.6" cy="184.1" r="2.05" fill="#008b8b"/>
<circle cx="361.8" cy="183.9" r="2.05" fill="#008b8b"/>
<circle cx="353.9" cy="183.5" r="2.05" fill="#008b8b"/>
<circle cx="346.7" cy="194.7" r="2.05" fill="#008b8b"/>
<circle cx="345.9" cy="201.7" r="2.05" fill="#008b8b"/>
<circle cx="341.5" cy="207.0" r="2.05" fill="#008b8b"/>
<circle cx="369.9" cy="203.8" r="2.05" fill="#008b8b"/>
<circle cx="358.1" cy="184.9" r="2.05" fill="#008b8b"/>
<circle cx="362.0" cy="187.4" r="2.05" fill="#008b8b"/>
<circle cx="318.2" cy="23.0" r="2.05" fill="#ff7f00"/>
<circle cx="310.1" cy="50.9" r="2.05" fill="#ff7f00"/>
<circle cx="320.1" cy="60.6" r="2.05" fill="#ff7f00"/>
<circle cx="312.6" cy="68.2" r="2.05" fill="#ff7f00"/>
<circle cx="312.9" cy="77.5" r="2.05" fill="#ff7f00"/>
<circle cx="318.0" cy="77.5" r="2.05" fill="#ff7f00"/>
<circle cx="319.4" cy="78.5" r="2.05" fill="#ff7f00"/>
<circle cx="301.1" cy="99.9" r="2.05" fill="#ff7f00"/>
<circle cx="317.0" cy="102.5" r="2.05" fill="#ff7f00"/>
<circle cx="329.1" cy="101.1" r="2.05" fill="#ff7f00"/>
<circle cx="321.8" cy="107.6" r="2.05" fill="#ff7f00"/>
<circle cx="325.1" cy="111.7" r="2.05" fill="#ff7f00"/>
<circle cx="328.1" cy="112.3" r="2.05" fill="#ff7f00"/>
<circle cx="324.0" cy="117.1" r="2.05" fill="#ff7f00"/>
<circle cx="326.3" cy="119.1" r="2.05" fill="#ff7f00"/>
<circle cx="315.5" cy="121.5" r="2.05" fill="#ff7f00"/>
<circle cx="331.2" cy="120.9" r="2.05" fill="#ff7f00"/>
<circle cx="332.0" cy="123.4" r="2.05" fill="#ff7f00"/>
<circle cx="333.7" cy="123.7" r="2.05" fill="#ff7f00"/>
<circle cx="337.4" cy="121.1" r="2.05" fill="#ff7f00"/>
<circle cx="323.5" cy="125.7" r="2.05" fill="#ff7f00"/>
<circle cx="326.3" cy="125.1" r="2.05" fill="#ff7f00"/>
<circle cx="338.8" cy="132.3" r="2.05" fill="#ff7f00"/>
<circle cx="337.7" cy="133.4" r="2.05" fill="#ff7f00"/>
<circle cx="336.6" cy="136.3" r="2.05" fill="#ff7f00"/>
<circle cx="327.0" cy="136.6" r="2.05" fill="#ff7f00"/>
<circle cx="299.7" cy="140.6" r="2.05" fill="#ff7f00"/>
<circle cx="307.8" cy="139.4" r="2.05" fill="#ff7f00"/>
<circle cx="312.9" cy="141.0" r="2.05" fill="#ff7f00"/>
<circle cx="318.2" cy="141.0" r="2.05" fill="#ff7f00"/>
<circle cx="323.6" cy="139.3" r="2.05" fill="#ff7f00"/>
<circle cx="327.6" cy="141.0" r="2.05" fill="#ff7f00"/>
<circle cx="338.0" cy="144.1" r="2.05" fill="#ff7f00"/>
<circle cx="315.5" cy="149.1" r="2.05" fill="#ff7f00"/>
<circle cx="332.2" cy="147.8" r="2.05" fill="#ff7f00"/>
<circle cx="323.6" cy="152.0" r="2.05" fill="#ff7f00"/>
<circle cx="328.3" cy="151.8" r="2.05" fill="#ff7f00"/>
<circle cx="331.5" cy="157.1" r="2.05" fill="#ff7f00"/>
<circle cx="325.9" cy="159.4" r="2.05" fill="#ff7f00"/>
<circle cx="336.3" cy="159.4" r="2.05" fill="#ff7f00"/>
<circle cx="319.6" cy="162.5" r="2.05" fill="#ff7f00"/>
<circle cx="333.3" cy="162.5" r="2.05" fill="#ff7f00"/>
<circle cx="348.9" cy="78.7" r="2.05" fill="#000000"/>
<circle cx="339.7" cy="105.2" r="2.05" fill="#000000"/>
<circle cx="342.9" cy="105.8" r="2.05" fill="#000000"/>
<circle cx="345.0" cy="124.9" r="2.05" fill="#000000"/>
<circle cx="347.5" cy="141.4" r="2.05" fill="#000000"/>
<circle cx="343.5" cy="148.2" r="2.05" fill="#000000"/>
<circle cx="342.0" cy="154.4" r="2.05" fill="#000000"/>
<circle cx="347.5" cy="162.4" r="2.05" fill="#000000"/>
<circle cx="353.3" cy="162.7" r="2.05" fill="#000000"/>
<circle cx="357.7" cy="148.4" r="2.05" fill="#000000"/>
<line x1="255.5" x2="453.7" y1="164.3" y2="164.3" stroke="#333" stroke-width="1.05" stroke-dasharray="3.6 3.27"/>
<line x1="339.0" x2="339.0" y1="13.0" y2="225.6" stroke="#333" stroke-width="1.05" stroke-dasharray="3.5 3.245"/>
<text x="260.5" y="44.7" font-size="11" fill="#111" stroke="#111" stroke-width="0.25">13.9%</text>
<text x="418.6" y="44.8" font-size="11" fill="#111" stroke="#111" stroke-width="0.25">3.2%</text>
<text x="260.3" y="210.3" font-size="11" fill="#111" stroke="#111" stroke-width="0.25">25.2%</text>
<text x="415.4" y="210.4" font-size="11" fill="#111" stroke="#111" stroke-width="0.25">57.7%</text>
<line x1="484.8" x2="683" y1="215.63" y2="215.63" stroke="#f3f3f3" stroke-width="1"/>
<line x1="484.8" x2="683" y1="162.97" y2="162.97" stroke="#f3f3f3" stroke-width="1"/>
<line x1="484.8" x2="683" y1="110.30" y2="110.30" stroke="#f3f3f3" stroke-width="1"/>
<line x1="484.8" x2="683" y1="57.64" y2="57.64" stroke="#f3f3f3" stroke-width="1"/>
<line x1="494.0" x2="494.0" y1="13.0" y2="225.6" stroke="#f3f3f3" stroke-width="1"/>
<line x1="551.0" x2="551.0" y1="13.0" y2="225.6" stroke="#f3f3f3" stroke-width="1"/>
<line x1="607.6" x2="607.6" y1="13.0" y2="225.6" stroke="#f3f3f3" stroke-width="1"/>
<line x1="664.6" x2="664.6" y1="13.0" y2="225.6" stroke="#f3f3f3" stroke-width="1"/>
<line x1="484.8" x2="683" y1="189.30" y2="189.30" stroke="#f1f1f1" stroke-width="1"/>
<line x1="484.8" x2="683" y1="136.64" y2="136.64" stroke="#f1f1f1" stroke-width="1"/>
<line x1="484.8" x2="683" y1="83.97" y2="83.97" stroke="#f1f1f1" stroke-width="1"/>
<line x1="484.8" x2="683" y1="31.31" y2="31.31" stroke="#f1f1f1" stroke-width="1"/>
<line x1="522.3" x2="522.3" y1="13.0" y2="225.6" stroke="#f1f1f1" stroke-width="1"/>
<line x1="579.3" x2="579.3" y1="13.0" y2="225.6" stroke="#f1f1f1" stroke-width="1"/>
<line x1="636.3" x2="636.3" y1="13.0" y2="225.6" stroke="#f1f1f1" stroke-width="1"/>
<text transform="translate(481.8,192.50) scale(0.88,1)" font-size="9" fill="#666" text-anchor="end">0</text>
<text transform="translate(481.8,139.84) scale(0.88,1)" font-size="9" fill="#666" text-anchor="end">50</text>
<text transform="translate(481.8,87.17) scale(0.88,1)" font-size="9" fill="#666" text-anchor="end">100</text>
<text transform="translate(481.8,34.51) scale(0.88,1)" font-size="9" fill="#666" text-anchor="end">150</text>
<text transform="translate(522.3,234.4) scale(0.9,1)" font-size="9" fill="#666" text-anchor="middle">0.03</text>
<text transform="translate(579.3,234.4) scale(0.9,1)" font-size="9" fill="#666" text-anchor="middle">0.06</text>
<text transform="translate(636.3,234.4) scale(0.9,1)" font-size="9" fill="#666" text-anchor="middle">0.09</text>
<text x="587.0" y="242.9" font-size="9.05" fill="#111" stroke="#111" stroke-width="0.15" text-anchor="middle">Aβ42/Aβ40 SIMOA</text>
<text transform="translate(465.7,118.8) rotate(-90)" font-size="8.8" fill="#111" stroke="#111" stroke-width="0.2" text-anchor="middle">PET CL</text>
<text x="470.1" y="14.6" font-size="19.5" fill="#000" stroke="#000" stroke-width="0.35">C)</text>
<text x="569.4" y="7.6" font-size="11" font-weight="bold" fill="#000">SIMOA</text>
<circle cx="508.6" cy="191.1" r="2.05" fill="#8b7d6b"/>
<circle cx="530.9" cy="169.0" r="2.05" fill="#8b7d6b"/>
<circle cx="535.7" cy="172.6" r="2.05" fill="#8b7d6b"/>
<circle cx="539.8" cy="175.0" r="2.05" fill="#8b7d6b"/>
<circle cx="533.8" cy="191.1" r="2.05" fill="#8b7d6b"/>
<circle cx="539.3" cy="193.0" r="2.05" fill="#8b7d6b"/>
<circle cx="543.4" cy="194.2" r="2.05" fill="#8b7d6b"/>
<circle cx="544.6" cy="187.0" r="2.05" fill="#8b7d6b"/>
<circle cx="539.0" cy="201.4" r="2.05" fill="#8b7d6b"/>
<circle cx="527.3" cy="211.7" r="2.05" fill="#8b7d6b"/>
<circle cx="530.8" cy="169.2" r="2.05" fill="#8b7d6b"/>
<circle cx="558.8" cy="165.0" r="2.05" fill="#8b7d6b"/>
<circle cx="566.0" cy="168.5" r="2.05" fill="#8b7d6b"/>
<circle cx="547.4" cy="176.3" r="2.05" fill="#8b7d6b"/>
<circle cx="557.5" cy="177.3" r="2.05" fill="#8b7d6b"/>
<circle cx="544.2" cy="187.1" r="2.05" fill="#8b7d6b"/>
<circle cx="551.0" cy="187.1" r="2.05" fill="#8b7d6b"/>
<circle cx="554.3" cy="186.1" r="2.05" fill="#8b7d6b"/>
<circle cx="558.8" cy="185.1" r="2.05" fill="#8b7d6b"/>
<circle cx="547.1" cy="194.3" r="2.05" fill="#8b7d6b"/>
<circle cx="539.3" cy="202.0" r="2.05" fill="#8b7d6b"/>
<circle cx="551.7" cy="202.4" r="2.05" fill="#8b7d6b"/>
<circle cx="558.5" cy="198.1" r="2.05" fill="#8b7d6b"/>
<circle cx="554.3" cy="214.1" r="2.05" fill="#8b7d6b"/>
<circle cx="564.0" cy="202.4" r="2.05" fill="#8b7d6b"/>
<circle cx="561.4" cy="206.6" r="2.05" fill="#8b7d6b"/>
<circle cx="565.3" cy="206.3" r="2.05" fill="#8b7d6b"/>
<circle cx="567.3" cy="205.0" r="2.05" fill="#8b7d6b"/>
<circle cx="565.3" cy="211.5" r="2.05" fill="#8b7d6b"/>
<circle cx="564.7" cy="215.4" r="2.05" fill="#8b7d6b"/>
<circle cx="571.5" cy="165.0" r="2.05" fill="#8b7d6b"/>
<circle cx="584.5" cy="168.9" r="2.05" fill="#8b7d6b"/>
<circle cx="572.8" cy="202.4" r="2.05" fill="#8b7d6b"/>
<circle cx="568.2" cy="204.3" r="2.05" fill="#8b7d6b"/>
<circle cx="578.0" cy="205.0" r="2.05" fill="#8b7d6b"/>
<circle cx="579.9" cy="206.9" r="2.05" fill="#8b7d6b"/>
<circle cx="582.5" cy="209.5" r="2.05" fill="#8b7d6b"/>
<circle cx="581.9" cy="212.8" r="2.05" fill="#8b7d6b"/>
<circle cx="566.9" cy="210.8" r="2.05" fill="#8b7d6b"/>
<circle cx="568.9" cy="214.1" r="2.05" fill="#8b7d6b"/>
<circle cx="565.0" cy="213.4" r="2.05" fill="#8b7d6b"/>
<circle cx="583.8" cy="202.4" r="2.05" fill="#8b7d6b"/>
<circle cx="567.3" cy="173.0" r="2.05" fill="#8b7d6b"/>
<circle cx="572.2" cy="174.9" r="2.05" fill="#8b7d6b"/>
<circle cx="578.3" cy="171.8" r="2.05" fill="#8b7d6b"/>
<circle cx="582.0" cy="171.2" r="2.05" fill="#8b7d6b"/>
<circle cx="583.8" cy="170.6" r="2.05" fill="#8b7d6b"/>
<circle cx="569.1" cy="178.5" r="2.05" fill="#8b7d6b"/>
<circle cx="575.2" cy="177.9" r="2.05" fill="#8b7d6b"/>
<circle cx="577.7" cy="177.3" r="2.05" fill="#8b7d6b"/>
<circle cx="582.6" cy="178.5" r="2.05" fill="#8b7d6b"/>
<circle cx="565.5" cy="181.6" r="2.05" fill="#8b7d6b"/>
<circle cx="572.8" cy="182.2" r="2.05" fill="#8b7d6b"/>
<circle cx="575.9" cy="181.6" r="2.05" fill="#8b7d6b"/>
<circle cx="579.5" cy="182.2" r="2.05" fill="#8b7d6b"/>
<circle cx="584.4" cy="181.6" r="2.05" fill="#8b7d6b"/>
<circle cx="562.4" cy="184.6" r="2.05" fill="#8b7d6b"/>
<circle cx="566.7" cy="185.9" r="2.05" fill="#8b7d6b"/>
<circle cx="570.4" cy="184.6" r="2.05" fill="#8b7d6b"/>
<circle cx="574.0" cy="185.9" r="2.05" fill="#8b7d6b"/>
<circle cx="577.1" cy="185.2" r="2.05" fill="#8b7d6b"/>
<circle cx="583.2" cy="185.9" r="2.05" fill="#8b7d6b"/>
<circle cx="564.9" cy="189.5" r="2.05" fill="#8b7d6b"/>
<circle cx="568.5" cy="189.5" r="2.05" fill="#8b7d6b"/>
<circle cx="573.4" cy="188.3" r="2.05" fill="#8b7d6b"/>
<circle cx="578.3" cy="189.5" r="2.05" fill="#8b7d6b"/>
<circle cx="582.6" cy="190.1" r="2.05" fill="#8b7d6b"/>
<circle cx="585.0" cy="188.3" r="2.05" fill="#8b7d6b"/>
<circle cx="561.8" cy="192.6" r="2.05" fill="#8b7d6b"/>
<circle cx="566.7" cy="193.8" r="2.05" fill="#8b7d6b"/>
<circle cx="571.0" cy="192.6" r="2.05" fill="#8b7d6b"/>
<circle cx="575.2" cy="193.2" r="2.05" fill="#8b7d6b"/>
<circle cx="579.5" cy="193.8" r="2.05" fill="#8b7d6b"/>
<circle cx="583.8" cy="193.2" r="2.05" fill="#8b7d6b"/>
<circle cx="563.7" cy="196.8" r="2.05" fill="#8b7d6b"/>
<circle cx="569.8" cy="197.4" r="2.05" fill="#8b7d6b"/>
<circle cx="574.0" cy="196.2" r="2.05" fill="#8b7d6b"/>
<circle cx="578.3" cy="197.4" r="2.05" fill="#8b7d6b"/>
<circle cx="582.6" cy="198.0" r="2.05" fill="#8b7d6b"/>
<circle cx="584.4" cy="195.6" r="2.05" fill="#8b7d6b"/>
<circle cx="585.0" cy="174.9" r="2.05" fill="#8b7d6b"/>
<circle cx="584.4" cy="176.1" r="2.05" fill="#8b7d6b"/>
<circle cx="581.0" cy="186.0" r="2.05" fill="#8b7d6b"/>
<circle cx="584.5" cy="186.5" r="2.05" fill="#8b7d6b"/>
<circle cx="580.5" cy="189.5" r="2.05" fill="#8b7d6b"/>
<circle cx="584.0" cy="190.0" r="2.05" fill="#8b7d6b"/>
<circle cx="581.0" cy="193.0" r="2.05" fill="#8b7d6b"/>
<circle cx="584.5" cy="194.0" r="2.05" fill="#8b7d6b"/>
<circle cx="580.5" cy="197.0" r="2.05" fill="#8b7d6b"/>
<circle cx="584.0" cy="198.0" r="2.05" fill="#8b7d6b"/>
<circle cx="581.5" cy="201.0" r="2.05" fill="#8b7d6b"/>
<circle cx="585.0" cy="202.0" r="2.05" fill="#8b7d6b"/>
<circle cx="580.0" cy="204.5" r="2.05" fill="#8b7d6b"/>
<circle cx="584.0" cy="206.0" r="2.05" fill="#8b7d6b"/>
<circle cx="582.0" cy="208.0" r="2.05" fill="#8b7d6b"/>
<circle cx="577.2" cy="204.6" r="2.05" fill="#8b7d6b"/>
<circle cx="578.4" cy="207.6" r="2.05" fill="#8b7d6b"/>
<circle cx="563.5" cy="180.5" r="2.05" fill="#8b7d6b"/>
<circle cx="567.0" cy="179.5" r="2.05" fill="#8b7d6b"/>
<circle cx="570.5" cy="180.5" r="2.05" fill="#8b7d6b"/>
<circle cx="574.0" cy="179.0" r="2.05" fill="#8b7d6b"/>
<circle cx="563.0" cy="188.0" r="2.05" fill="#8b7d6b"/>
<circle cx="567.0" cy="187.5" r="2.05" fill="#8b7d6b"/>
<circle cx="571.5" cy="187.0" r="2.05" fill="#8b7d6b"/>
<circle cx="575.5" cy="189.0" r="2.05" fill="#8b7d6b"/>
<circle cx="564.0" cy="194.5" r="2.05" fill="#8b7d6b"/>
<circle cx="568.0" cy="195.5" r="2.05" fill="#8b7d6b"/>
<circle cx="572.5" cy="194.5" r="2.05" fill="#8b7d6b"/>
<circle cx="576.5" cy="195.0" r="2.05" fill="#8b7d6b"/>
<circle cx="570.5" cy="176.0" r="2.05" fill="#8b7d6b"/>
<circle cx="574.5" cy="175.0" r="2.05" fill="#8b7d6b"/>
<circle cx="559.3" cy="185.3" r="2.05" fill="#8b7d6b"/>
<circle cx="569.8" cy="197.4" r="2.05" fill="#8b7d6b"/>
<circle cx="573.9" cy="198.3" r="2.05" fill="#8b7d6b"/>
<circle cx="573.1" cy="202.3" r="2.05" fill="#8b7d6b"/>
<circle cx="561.7" cy="206.4" r="2.05" fill="#8b7d6b"/>
<circle cx="567.4" cy="210.4" r="2.05" fill="#8b7d6b"/>
<circle cx="596.4" cy="166.7" r="2.05" fill="#008b8b"/>
<circle cx="596.7" cy="167.6" r="2.05" fill="#008b8b"/>
<circle cx="590.9" cy="169.5" r="2.05" fill="#008b8b"/>
<circle cx="587.7" cy="173.4" r="2.05" fill="#008b8b"/>
<circle cx="596.1" cy="175.4" r="2.05" fill="#008b8b"/>
<circle cx="599.3" cy="174.7" r="2.05" fill="#008b8b"/>
<circle cx="605.8" cy="178.0" r="2.05" fill="#008b8b"/>
<circle cx="613.0" cy="177.3" r="2.05" fill="#008b8b"/>
<circle cx="598.0" cy="182.5" r="2.05" fill="#008b8b"/>
<circle cx="607.8" cy="188.4" r="2.05" fill="#008b8b"/>
<circle cx="613.0" cy="190.3" r="2.05" fill="#008b8b"/>
<circle cx="587.6" cy="212.1" r="2.05" fill="#008b8b"/>
<circle cx="593.5" cy="211.5" r="2.05" fill="#008b8b"/>
<circle cx="600.6" cy="209.5" r="2.05" fill="#008b8b"/>
<circle cx="604.5" cy="208.2" r="2.05" fill="#008b8b"/>
<circle cx="607.8" cy="212.8" r="2.05" fill="#008b8b"/>
<circle cx="608.4" cy="214.1" r="2.05" fill="#008b8b"/>
<circle cx="612.3" cy="210.2" r="2.05" fill="#008b8b"/>
<circle cx="613.0" cy="201.7" r="2.05" fill="#008b8b"/>
<circle cx="613.6" cy="197.2" r="2.05" fill="#008b8b"/>
<circle cx="613.3" cy="177.8" r="2.05" fill="#008b8b"/>
<circle cx="623.9" cy="184.4" r="2.05" fill="#008b8b"/>
<circle cx="653.5" cy="181.1" r="2.05" fill="#008b8b"/>
<circle cx="644.6" cy="191.7" r="2.05" fill="#008b8b"/>
<circle cx="648.8" cy="197.8" r="2.05" fill="#008b8b"/>
<circle cx="629.1" cy="192.8" r="2.05" fill="#008b8b"/>
<circle cx="621.7" cy="192.8" r="2.05" fill="#008b8b"/>
<circle cx="617.5" cy="190.5" r="2.05" fill="#008b8b"/>
<circle cx="613.9" cy="191.1" r="2.05" fill="#008b8b"/>
<circle cx="609.1" cy="188.6" r="2.05" fill="#008b8b"/>
<circle cx="609.7" cy="195.4" r="2.05" fill="#008b8b"/>
<circle cx="613.3" cy="197.5" r="2.05" fill="#008b8b"/>
<circle cx="618.1" cy="198.1" r="2.05" fill="#008b8b"/>
<circle cx="617.1" cy="203.8" r="2.05" fill="#008b8b"/>
<circle cx="612.2" cy="201.3" r="2.05" fill="#008b8b"/>
<circle cx="609.1" cy="203.8" r="2.05" fill="#008b8b"/>
<circle cx="611.8" cy="210.2" r="2.05" fill="#008b8b"/>
<circle cx="624.3" cy="208.7" r="2.05" fill="#008b8b"/>
<circle cx="630.2" cy="212.3" r="2.05" fill="#008b8b"/>
<circle cx="609.1" cy="213.3" r="2.05" fill="#008b8b"/>
<circle cx="616.5" cy="190.1" r="2.05" fill="#008b8b"/>
<circle cx="615.0" cy="192.2" r="2.05" fill="#008b8b"/>
<circle cx="611.2" cy="196.4" r="2.05" fill="#008b8b"/>
<circle cx="596.6" cy="167.4" r="2.05" fill="#008b8b"/>
<circle cx="591.1" cy="169.9" r="2.05" fill="#008b8b"/>
<circle cx="588.0" cy="172.3" r="2.05" fill="#008b8b"/>
<circle cx="586.8" cy="174.1" r="2.05" fill="#008b8b"/>
<circle cx="596.0" cy="175.4" r="2.05" fill="#008b8b"/>
<circle cx="599.4" cy="174.8" r="2.05" fill="#008b8b"/>
<circle cx="606.3" cy="177.8" r="2.05" fill="#008b8b"/>
<circle cx="613.0" cy="177.8" r="2.05" fill="#008b8b"/>
<circle cx="623.4" cy="184.5" r="2.05" fill="#008b8b"/>
<circle cx="598.4" cy="183.3" r="2.05" fill="#008b8b"/>
<circle cx="603.3" cy="187.6" r="2.05" fill="#008b8b"/>
<circle cx="607.6" cy="188.2" r="2.05" fill="#008b8b"/>
<circle cx="613.7" cy="190.6" r="2.05" fill="#008b8b"/>
<circle cx="617.3" cy="190.1" r="2.05" fill="#008b8b"/>
<circle cx="621.6" cy="192.6" r="2.05" fill="#008b8b"/>
<circle cx="613.0" cy="197.1" r="2.05" fill="#008b8b"/>
<circle cx="617.9" cy="199.0" r="2.05" fill="#008b8b"/>
<circle cx="616.7" cy="203.2" r="2.05" fill="#008b8b"/>
<circle cx="613.7" cy="202.0" r="2.05" fill="#008b8b"/>
<circle cx="624.0" cy="208.7" r="2.05" fill="#008b8b"/>
<circle cx="612.4" cy="210.6" r="2.05" fill="#008b8b"/>
<circle cx="608.2" cy="213.0" r="2.05" fill="#008b8b"/>
<circle cx="604.5" cy="208.7" r="2.05" fill="#008b8b"/>
<circle cx="600.2" cy="207.5" r="2.05" fill="#008b8b"/>
<circle cx="593.5" cy="210.6" r="2.05" fill="#008b8b"/>
<circle cx="587.4" cy="211.8" r="2.05" fill="#008b8b"/>
<circle cx="609.4" cy="201.4" r="2.05" fill="#008b8b"/>
<circle cx="608.8" cy="194.7" r="2.05" fill="#008b8b"/>
<circle cx="610.0" cy="191.7" r="2.05" fill="#008b8b"/>
<circle cx="588.9" cy="188.9" r="2.05" fill="#008b8b"/>
<circle cx="607.2" cy="201.6" r="2.05" fill="#008b8b"/>
<circle cx="599.0" cy="184.9" r="2.05" fill="#008b8b"/>
<circle cx="591.2" cy="179.4" r="2.05" fill="#008b8b"/>
<circle cx="592.1" cy="205.7" r="2.05" fill="#008b8b"/>
<circle cx="594.2" cy="196.1" r="2.05" fill="#008b8b"/>
<circle cx="603.2" cy="203.3" r="2.05" fill="#008b8b"/>
<circle cx="600.5" cy="197.5" r="2.05" fill="#008b8b"/>
<circle cx="607.0" cy="194.3" r="2.05" fill="#008b8b"/>
<circle cx="598.4" cy="189.2" r="2.05" fill="#008b8b"/>
<circle cx="588.5" cy="196.0" r="2.05" fill="#008b8b"/>
<circle cx="593.5" cy="193.1" r="2.05" fill="#008b8b"/>
<circle cx="597.6" cy="187.0" r="2.05" fill="#008b8b"/>
<circle cx="596.4" cy="182.5" r="2.05" fill="#008b8b"/>
<circle cx="595.2" cy="199.9" r="2.05" fill="#008b8b"/>
<circle cx="588.8" cy="183.3" r="2.05" fill="#008b8b"/>
<circle cx="604.0" cy="195.7" r="2.05" fill="#008b8b"/>
<circle cx="591.3" cy="190.7" r="2.05" fill="#008b8b"/>
<circle cx="588.4" cy="198.3" r="2.05" fill="#008b8b"/>
<circle cx="606.8" cy="206.6" r="2.05" fill="#008b8b"/>
<circle cx="603.3" cy="206.7" r="2.05" fill="#008b8b"/>
<circle cx="596.3" cy="206.2" r="2.05" fill="#008b8b"/>
<circle cx="600.8" cy="202.2" r="2.05" fill="#008b8b"/>
<circle cx="593.8" cy="182.1" r="2.05" fill="#008b8b"/>
<circle cx="588.4" cy="191.7" r="2.05" fill="#008b8b"/>
<circle cx="592.9" cy="207.9" r="2.05" fill="#008b8b"/>
<circle cx="604.1" cy="189.1" r="2.05" fill="#008b8b"/>
<circle cx="608.7" cy="191.3" r="2.05" fill="#008b8b"/>
<circle cx="605.4" cy="192.0" r="2.05" fill="#008b8b"/>
<circle cx="606.9" cy="196.9" r="2.05" fill="#008b8b"/>
<circle cx="604.5" cy="199.8" r="2.05" fill="#008b8b"/>
<circle cx="601.2" cy="194.2" r="2.05" fill="#008b8b"/>
<circle cx="601.9" cy="186.6" r="2.05" fill="#008b8b"/>
<circle cx="597.6" cy="192.8" r="2.05" fill="#008b8b"/>
<circle cx="588.1" cy="177.1" r="2.05" fill="#008b8b"/>
<circle cx="600.3" cy="191.6" r="2.05" fill="#008b8b"/>
<circle cx="587.7" cy="202.8" r="2.05" fill="#008b8b"/>
<circle cx="596.8" cy="203.5" r="2.05" fill="#008b8b"/>
<circle cx="594.0" cy="202.8" r="2.05" fill="#008b8b"/>
<circle cx="599.2" cy="204.9" r="2.05" fill="#008b8b"/>
<circle cx="598.0" cy="198.9" r="2.05" fill="#008b8b"/>
<circle cx="589.3" cy="180.6" r="2.05" fill="#008b8b"/>
<circle cx="591.4" cy="196.9" r="2.05" fill="#008b8b"/>
<circle cx="594.5" cy="185.6" r="2.05" fill="#008b8b"/>
<circle cx="602.0" cy="199.8" r="2.05" fill="#008b8b"/>
<circle cx="596.2" cy="195.2" r="2.05" fill="#008b8b"/>
<circle cx="608.9" cy="204.8" r="2.05" fill="#008b8b"/>
<circle cx="596.1" cy="188.8" r="2.05" fill="#008b8b"/>
<circle cx="589.0" cy="207.2" r="2.05" fill="#008b8b"/>
<circle cx="591.0" cy="201.3" r="2.05" fill="#008b8b"/>
<circle cx="595.9" cy="197.8" r="2.05" fill="#008b8b"/>
<circle cx="608.9" cy="198.6" r="2.05" fill="#008b8b"/>
<circle cx="601.4" cy="204.7" r="2.05" fill="#008b8b"/>
<circle cx="605.4" cy="204.5" r="2.05" fill="#008b8b"/>
<circle cx="593.9" cy="188.4" r="2.05" fill="#008b8b"/>
<circle cx="588.1" cy="200.5" r="2.05" fill="#008b8b"/>
<circle cx="591.4" cy="182.6" r="2.05" fill="#008b8b"/>
<circle cx="588.2" cy="186.4" r="2.05" fill="#008b8b"/>
<circle cx="590.2" cy="203.7" r="2.05" fill="#008b8b"/>
<circle cx="592.0" cy="199.3" r="2.05" fill="#008b8b"/>
<circle cx="601.0" cy="188.8" r="2.05" fill="#008b8b"/>
<circle cx="598.2" cy="207.4" r="2.05" fill="#008b8b"/>
<circle cx="590.3" cy="193.5" r="2.05" fill="#008b8b"/>
<circle cx="598.8" cy="195.9" r="2.05" fill="#008b8b"/>
<circle cx="594.7" cy="191.2" r="2.05" fill="#008b8b"/>
<circle cx="603.2" cy="191.3" r="2.05" fill="#008b8b"/>
<circle cx="606.7" cy="190.0" r="2.05" fill="#008b8b"/>
<circle cx="594.2" cy="205.0" r="2.05" fill="#008b8b"/>
<circle cx="598.6" cy="201.9" r="2.05" fill="#008b8b"/>
<circle cx="600.7" cy="207.7" r="2.05" fill="#008b8b"/>
<circle cx="543.3" cy="23.1" r="2.05" fill="#ff7f00"/>
<circle cx="576.5" cy="50.7" r="2.05" fill="#ff7f00"/>
<circle cx="573.2" cy="60.9" r="2.05" fill="#ff7f00"/>
<circle cx="578.4" cy="68.4" r="2.05" fill="#ff7f00"/>
<circle cx="545.3" cy="77.7" r="2.05" fill="#ff7f00"/>
<circle cx="558.1" cy="78.7" r="2.05" fill="#ff7f00"/>
<circle cx="583.8" cy="78.5" r="2.05" fill="#ff7f00"/>
<circle cx="566.0" cy="99.8" r="2.05" fill="#ff7f00"/>
<circle cx="583.3" cy="102.8" r="2.05" fill="#ff7f00"/>
<circle cx="585.3" cy="101.4" r="2.05" fill="#ff7f00"/>
<circle cx="576.5" cy="105.2" r="2.05" fill="#ff7f00"/>
<circle cx="572.8" cy="105.7" r="2.05" fill="#ff7f00"/>
<circle cx="571.3" cy="107.5" r="2.05" fill="#ff7f00"/>
<circle cx="555.2" cy="111.0" r="2.05" fill="#ff7f00"/>
<circle cx="570.8" cy="111.4" r="2.05" fill="#ff7f00"/>
<circle cx="569.1" cy="112.4" r="2.05" fill="#ff7f00"/>
<circle cx="525.0" cy="118.8" r="2.05" fill="#ff7f00"/>
<circle cx="568.7" cy="117.4" r="2.05" fill="#ff7f00"/>
<circle cx="568.2" cy="121.4" r="2.05" fill="#ff7f00"/>
<circle cx="563.6" cy="123.5" r="2.05" fill="#ff7f00"/>
<circle cx="565.2" cy="125.5" r="2.05" fill="#ff7f00"/>
<circle cx="570.7" cy="123.5" r="2.05" fill="#ff7f00"/>
<circle cx="569.1" cy="122.0" r="2.05" fill="#ff7f00"/>
<circle cx="566.8" cy="124.9" r="2.05" fill="#ff7f00"/>
<circle cx="546.0" cy="125.0" r="2.05" fill="#ff7f00"/>
<circle cx="582.6" cy="131.5" r="2.05" fill="#ff7f00"/>
<circle cx="579.8" cy="133.1" r="2.05" fill="#ff7f00"/>
<circle cx="550.3" cy="136.7" r="2.05" fill="#ff7f00"/>
<circle cx="574.2" cy="136.6" r="2.05" fill="#ff7f00"/>
<circle cx="563.3" cy="141.2" r="2.05" fill="#ff7f00"/>
<circle cx="572.3" cy="141.2" r="2.05" fill="#ff7f00"/>
<circle cx="579.6" cy="139.2" r="2.05" fill="#ff7f00"/>
<circle cx="586.3" cy="139.7" r="2.05" fill="#ff7f00"/>
<circle cx="585.5" cy="143.5" r="2.05" fill="#ff7f00"/>
<circle cx="570.8" cy="148.9" r="2.05" fill="#ff7f00"/>
<circle cx="575.1" cy="148.1" r="2.05" fill="#ff7f00"/>
<circle cx="580.7" cy="147.3" r="2.05" fill="#ff7f00"/>
<circle cx="581.1" cy="148.9" r="2.05" fill="#ff7f00"/>
<circle cx="571.7" cy="151.8" r="2.05" fill="#ff7f00"/>
<circle cx="577.8" cy="151.7" r="2.05" fill="#ff7f00"/>
<circle cx="533.0" cy="157.2" r="2.05" fill="#ff7f00"/>
<circle cx="576.4" cy="159.0" r="2.05" fill="#ff7f00"/>
<circle cx="581.1" cy="159.6" r="2.05" fill="#ff7f00"/>
<circle cx="575.3" cy="161.8" r="2.05" fill="#ff7f00"/>
<circle cx="567.3" cy="162.3" r="2.05" fill="#ff7f00"/>
<circle cx="575.7" cy="162.9" r="2.05" fill="#ff7f00"/>
<circle cx="608.6" cy="77.1" r="2.05" fill="#000000"/>
<circle cx="604.9" cy="120.7" r="2.05" fill="#000000"/>
<circle cx="592.2" cy="154.5" r="2.05" fill="#000000"/>
<circle cx="589.5" cy="162.0" r="2.05" fill="#000000"/>
<line x1="484.8" x2="683" y1="164.3" y2="164.3" stroke="#333" stroke-width="1.05" stroke-dasharray="3.6 3.27"/>
<line x1="586.6" x2="586.6" y1="13.0" y2="225.6" stroke="#333" stroke-width="1.05" stroke-dasharray="3.5 3.245"/>
<text x="495.6" y="45.2" font-size="11" fill="#111" stroke="#111" stroke-width="0.25">15.8%</text>
<text x="651.2" y="44.7" font-size="11" fill="#111" stroke="#111" stroke-width="0.25">1.3%</text>
<text x="482.3" y="211.0" font-size="11" fill="#111" stroke="#111" stroke-width="0.25">38.8%</text>
<text x="653.3" y="207.0" font-size="11" fill="#111" stroke="#111" stroke-width="0.25">44.2%</text>
</svg></body></html>
